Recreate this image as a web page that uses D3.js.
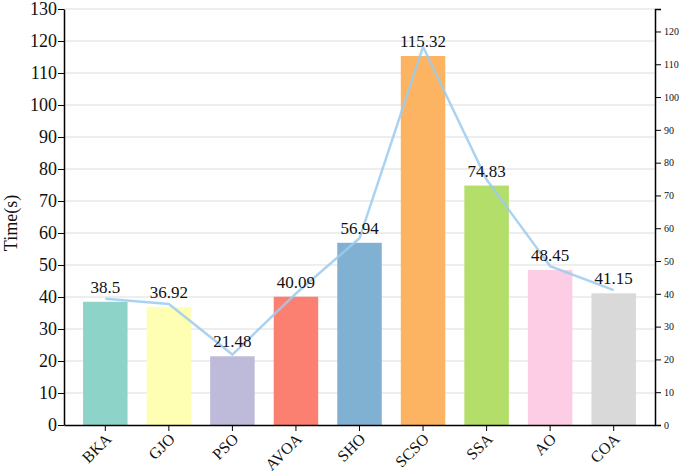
<!DOCTYPE html>
<html><head><meta charset="utf-8">
<script src="https://cdn.jsdelivr.net/npm/d3@7"></script>
<style>body{margin:0;background:#fff}</style>
</head><body>
<svg id="c" width="685" height="475"></svg>
<script>
const categories = ["BKA","GJO","PSO","AVOA","SHO","SCSO","SSA","AO","COA"];
const times = [38.5, 36.92, 21.48, 40.09, 56.94, 115.32, 74.83, 48.45, 41.15];
const leftTicks = [0,10,20,30,40,50,60,70,80,90,100,110,120,130];
const rightTicks = [0,10,20,30,40,50,60,70,80,90,100,110,120];
const colors = ["#8dd3c7","#ffffb3","#bebada","#fb8072","#80b1d3","#fdb462","#b3de69","#fccde5","#d9d9d9"];

const svg = d3.select("#c");
const L = 64, R = 655, T = 9, B = 425;
const font = "'Liberation Serif','Times New Roman',serif";

const x = d3.scaleBand().domain(categories).range([L, R]).paddingInner(0.3).paddingOuter(0.3);
const y = d3.scaleLinear().domain([0, 130]).range([B, T]);
const y2 = d3.scaleLinear().domain([0, d3.max(times) * 1.1]).range([B, T]);

// grid
svg.append("g").selectAll("line").data(leftTicks.filter(d => d > 0)).join("line")
  .attr("x1", L).attr("x2", R).attr("y1", d => y(d)).attr("y2", d => y(d))
  .attr("stroke", "#e8e8e8").attr("stroke-width", 1.5);

// bars
svg.append("g").selectAll("rect").data(times).join("rect")
  .attr("x", (d, i) => x(categories[i])).attr("width", x.bandwidth())
  .attr("y", d => y(d)).attr("height", d => B - y(d))
  .attr("fill", (d, i) => colors[i]);

// line
const line = d3.line().x((d, i) => x(categories[i]) + x.bandwidth() / 2).y(d => y2(d));
svg.append("path").datum(times).attr("d", line)
  .attr("fill", "none").attr("stroke", "#9ccbee").attr("stroke-opacity", 0.85).attr("stroke-width", 2.5);

// labels
svg.append("g").selectAll("text").data(times).join("text")
  .attr("x", (d, i) => x(categories[i]) + x.bandwidth() / 2)
  .attr("y", d => y(d) - 9)
  .attr("text-anchor", "middle").attr("font-family", font).attr("font-size", 17)
  .attr("fill", "#111").text(d => d);

// left axis
const ga = svg.append("g").attr("transform", `translate(${L},0)`)
  .call(d3.axisLeft(y).tickValues(leftTicks).tickSize(6).tickSizeOuter(0));
ga.selectAll("text").attr("font-family", font).attr("font-size", 18).attr("fill", "#111").attr("x", -7);
ga.select(".domain").attr("stroke-width", 1.5);

// right axis
const gr = svg.append("g").attr("transform", `translate(${R},0)`)
  .call(d3.axisRight(y2).tickValues(rightTicks).tickSize(6).tickSizeOuter(6));
gr.selectAll("text").attr("font-family", font).attr("font-size", 10).attr("fill", "#111");
gr.select(".domain").attr("stroke-width", 1.5);

// bottom axis
const gb = svg.append("g").attr("transform", `translate(0,${B})`)
  .call(d3.axisBottom(x).tickSize(6).tickSizeOuter(0));
gb.select(".domain").attr("stroke-width", 1.5);
gb.selectAll("text").attr("font-family", font).attr("font-size", 16).attr("fill", "#111")
  .attr("text-anchor", "end").attr("dy", null).attr("y", 0)
  .attr("transform", "translate(7,15) rotate(-45)");

// y title
svg.append("text").attr("transform", `translate(17,${(T + B) / 2 + 6}) rotate(-90)`)
  .attr("text-anchor", "middle").attr("font-family", font).attr("font-size", 18)
  .attr("fill", "#111").text("Time(s)");
</script>
</body></html>
